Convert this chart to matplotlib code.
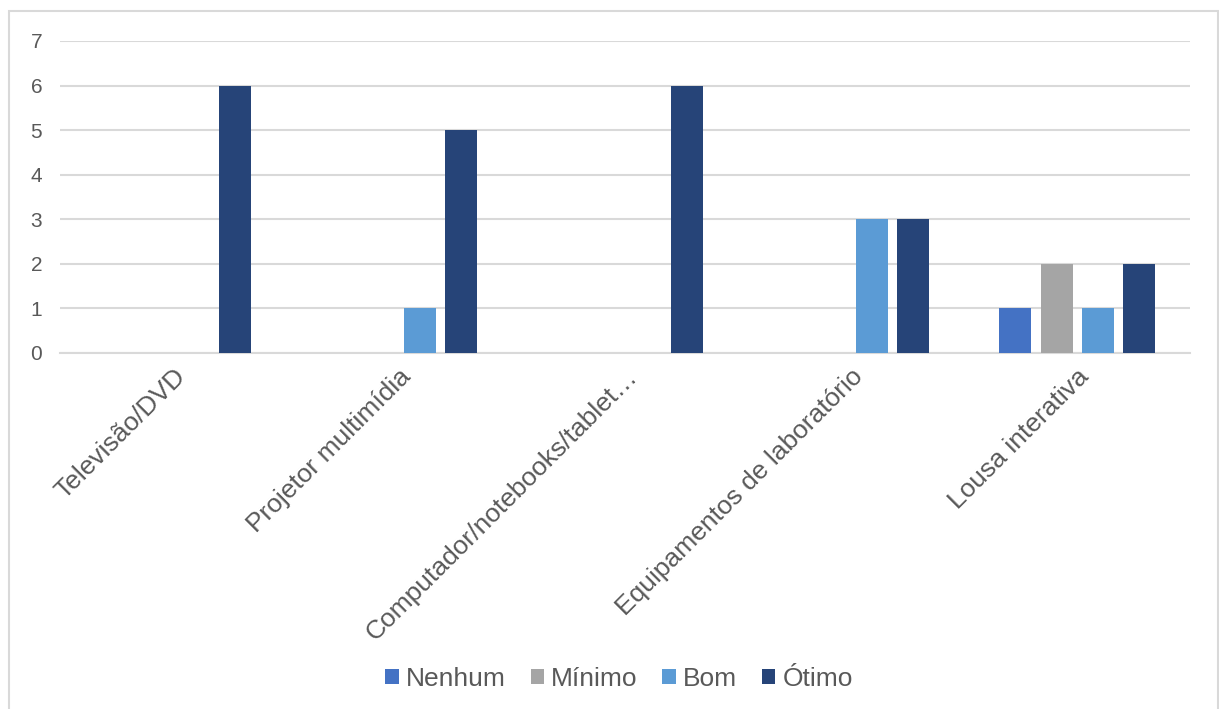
import matplotlib
matplotlib.use("Agg")
import matplotlib.pyplot as plt
import numpy as np
from matplotlib.patches import Rectangle

categories = ["Televisão/DVD", "Projetor multimídia", "Computador/notebooks/tablet…",
              "Equipamentos de laboratório", "Lousa interativa"]
series_names = ["Nenhum", "Mínimo", "Bom", "Ótimo"]
nenhum = [0, 0, 0, 0, 1]
minimo = [0, 0, 0, 0, 2]
bom = [0, 1, 0, 3, 1]
otimo = [6, 5, 6, 3, 2]
colors = ["#4472C4", "#A5A5A5", "#5B9BD5", "#264478"]
yticks = [0, 1, 2, 3, 4, 5, 6, 7]

plt.rcParams['font.family'] = ['Liberation Sans', 'DejaVu Sans']

W, H = 1219, 709
fig = plt.figure(figsize=(W/100, H/100), dpi=100)
fig.patch.set_facecolor("white")

# outer border
fig.patches.append(Rectangle((8.5/W, 0 - 5/H), (1218 - 8.5)/W, (H - 10.5 + 5)/H,
                             transform=fig.transFigure, fill=False,
                             edgecolor="#D9D9D9", linewidth=1.5))

ax = fig.add_axes([60/W, 1 - 353/H, (1190 - 60)/W, (353 - 41)/H])
x = np.arange(len(categories))
bw = 32/226
step = 41/226
data = [nenhum, minimo, bom, otimo]
for i, (name, vals, c) in enumerate(zip(series_names, data, colors)):
    ax.bar(x + (i - 1.5)*step, vals, width=bw, color=c, label=name, zorder=3)

ax.set_xlim(-0.5, len(categories) - 0.5)
ax.set_ylim(0, 7)
ax.set_yticks(yticks)
ax.yaxis.grid(True, color="#D9D9D9", linewidth=1.5, zorder=0)
for s in ["top", "right", "left"]:
    ax.spines[s].set_visible(False)
ax.spines["bottom"].set_color("#D9D9D9")
ax.spines["bottom"].set_linewidth(1.5)
ax.tick_params(axis="y", length=0, pad=17, labelsize=15, labelcolor="#595959")
ax.tick_params(axis="x", length=0, pad=8)
ax.set_xticks(x)
ax.set_xticklabels(categories, rotation=45, ha="right", va="top",
                   rotation_mode="anchor", fontsize=19, color="#595959")
for t in ax.get_yticklabels():
    t.set_horizontalalignment("center")

handles, labels = ax.get_legend_handles_labels()
fig.legend(handles, labels, loc="center", bbox_to_anchor=(619/W, 1 - 679/H), ncol=4,
           frameon=False, fontsize=19, labelcolor="#595959", handlelength=0.5,
           handleheight=0.5, handletextpad=0.27, columnspacing=0.95)

fig.savefig("out.png", dpi=100, facecolor="white")
